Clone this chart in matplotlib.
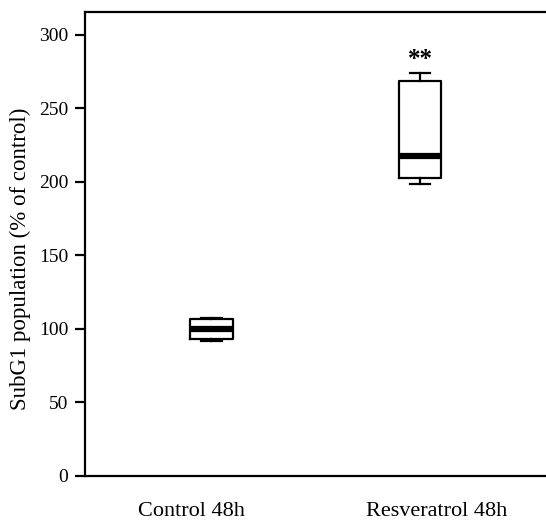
import matplotlib
matplotlib.use("Agg")
import matplotlib.pyplot as plt

# box-plot summary values (% of control)
groups = ["Control 48h", "Resveratrol 48h"]
whis_lo = [92.0, 198.6]
q1 = [93.0, 202.5]
median = [100.0, 217.7]
q3 = [106.6, 268.9]
whis_hi = [107.5, 274.4]
signif = ["", "**"]

y_ticks = [0, 50, 100, 150, 200, 250, 300]

plt.rcParams["font.family"] = ["Liberation Serif", "DejaVu Serif"]

fig = plt.figure(figsize=(5.46, 5.22), dpi=100)
ax = fig.add_axes([85 / 546, 46 / 522, 461 / 546, 464 / 522])

stats = [dict(label=g, whislo=lo, q1=a, med=m, q3=b, whishi=hi, fliers=[])
         for g, lo, a, m, b, hi in zip(groups, whis_lo, q1, median, q3, whis_hi)]
pos = [1, 2]
ax.bxp(stats, positions=pos, widths=0.206, showfliers=False,
       boxprops=dict(color="black", lw=1.6),
       whiskerprops=dict(color="black", lw=1.6),
       capprops=dict(color="black", lw=1.6),
       medianprops=dict(color="black", lw=4.5, solid_capstyle="butt"),
       capwidths=0.096, manage_ticks=False)

for p, s, hi in zip(pos, signif, whis_hi):
    if s:
        ax.text(p, hi + 1, s, ha="center", va="bottom", fontsize=18, fontweight="bold")

ax.set_xlim(0.3933, 2.6043)
ax.set_ylim(0, 315.6)
ax.set_yticks(y_ticks)
ax.tick_params(axis="y", length=7, width=1.6, labelsize=14, pad=5)
# category labels sit a bit wider apart than the boxes in the original
ax.set_xticks([0.904, 2.081])
ax.set_xticklabels(groups)
ax.tick_params(axis="x", length=0, labelsize=16, pad=19)
ax.set_ylabel("SubG1 population (% of control)", fontsize=16.5)
ax.yaxis.set_label_coords(-0.117, 0.468)

for side in ("left", "bottom", "top"):
    ax.spines[side].set_linewidth(1.6)
ax.spines["right"].set_visible(False)

fig.savefig("out.png", dpi=100)
